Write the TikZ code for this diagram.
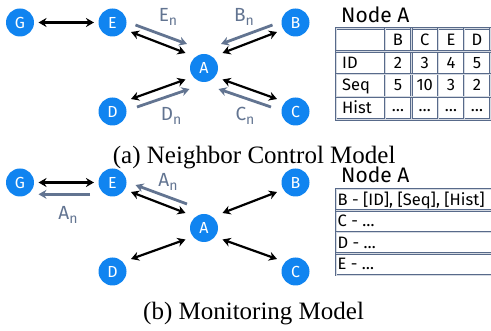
\documentclass[tikz,border=0pt]{standalone}
\usepackage{fontspec}
\setmainfont{Fira Sans}
\newfontfamily\capfont{Liberation Serif}
\usetikzlibrary{arrows.meta,calc}
\definecolor{nodeblue}{RGB}{16,132,240}
\definecolor{slate}{RGB}{98,116,145}
\definecolor{tbl}{RGB}{88,106,138}
\newcommand\nsub[2]{#1\raisebox{-4pt}{\fontsize{14}{14}\selectfont #2}}
\begin{document}
\begin{tikzpicture}[x=1pt,y=-1pt,
  peer/.style={circle,fill=nodeblue,text=white,minimum size=28pt,inner sep=0pt,font=\fontsize{16}{16}\selectfont},
  link/.style={line width=2.2pt,{Stealth[length=8pt,width=9pt]}-{Stealth[length=8pt,width=9pt]}},
  flow/.style={line width=2.8pt,slate,-{Stealth[length=8pt,width=9pt]}},
  flowlbl/.style={text=slate,font=\fontsize{19}{19}\selectfont,inner sep=0pt,anchor=base},
  grid/.style={draw=tbl,double=white!75!tbl,line width=0.85pt,double distance=0.8pt},
  cell/.style={font=\fontsize{16.5}{16.5}\selectfont,inner sep=0pt,anchor=base},
  lcell/.style={cell,anchor=base west},
  title/.style={font=\fontsize{21}{21}\selectfont,inner sep=0pt,anchor=base west},
  caption/.style={font=\capfont\fontsize{25}{25}\selectfont,inner sep=0pt,anchor=base west}]
\useasboundingbox (0,0) rectangle (491,331);

% ---------- (a) Neighbor Control Model ----------
\node[peer] (Ga) at (20,22.5) {G};
\node[peer] (Ea) at (112.5,22.5) {E};
\node[peer] (Ba) at (295.5,22.5) {B};
\node[peer] (Aa) at (204,68) {A};
\node[peer] (Da) at (112.5,111.5) {D};
\node[peer] (Ca) at (295.5,111.5) {C};

\draw[link] ($(Ga)+(18.5,0)$) -- ($(Ea)+(-18.5,0)$);
\draw[link] ($(Ea)+(18.5,9.5)$) -- ($(Aa)+(-18.5,-15)$);
\draw[link] ($(Ba)+(-18.5,9.5)$) -- ($(Aa)+(18.5,-15)$);
\draw[link] ($(Da)+(18.5,-12.5)$) -- ($(Aa)+(-18.5,11.5)$);
\draw[link] ($(Ca)+(-18.5,-12.5)$) -- ($(Aa)+(18.5,11.5)$);

\draw[flow] ($(Ea)+(23,2.5)$) -- ($(Aa)+(-17,-24)$);
\draw[flow] ($(Ba)+(-23,2.5)$) -- ($(Aa)+(17,-24)$);
\draw[flow] ($(Da)+(24.5,-4.5)$) -- ($(Aa)+(-14.5,21)$);
\draw[flow] ($(Ca)+(-24.5,-4.5)$) -- ($(Aa)+(14.5,21)$);

\node[flowlbl] (En) at (168,22) {\nsub{E}{n}};
\node[flowlbl] (Bn) at (244,22) {\nsub{B}{n}};
\node[flowlbl] (Dn) at (171,121) {\nsub{D}{n}};
\node[flowlbl] (Cn) at (245,121) {\nsub{C}{n}};

% table (a)
\node[title] (Ta) at (341,22.5) {Node A};
\draw[grid] (336,28.5) rectangle (494,119.5);
\foreach \x in {385,411.5,438,464,490} \draw[grid] (\x,28.5) -- (\x,119.5);
\foreach \y in {51.3,74,96.8} \draw[grid] (336,\y) -- (494,\y);
\node[lcell] (rID) at (342,68.1) {ID};
\node[lcell] (rSeq) at (342,90.9) {Seq};
\node[lcell] (rHist) at (342,113.6) {Hist};
\foreach \n/\x/\h/\i/\s in {B/398/B/2/5, C/424.75/C/3/10, E/451/E/4/3, D/477/D/5/2}{
  \node[cell] (h\n) at (\x,45.4) {\h};
  \node[cell] (i\n) at (\x,68.1) {\i};
  \node[cell] (s\n) at (\x,90.9) {\s};
  \node[cell] (t\n) at (\x,111.6) {…};
}

\node[caption] (capa) at (112.7,163.3) {(a) Neighbor Control Model};

% ---------- (b) Monitoring Model ----------
\node[peer] (Gb) at (20,182.5) {G};
\node[peer] (Eb) at (112.5,182.5) {E};
\node[peer] (Bb) at (295.5,182.5) {B};
\node[peer] (Ab) at (204,228) {A};
\node[peer] (Db) at (112.5,271.5) {D};
\node[peer] (Cb) at (295.5,271.5) {C};

\draw[link] ($(Gb)+(18.5,0)$) -- ($(Eb)+(-18.5,0)$);
\draw[link] ($(Eb)+(18.5,9.5)$) -- ($(Ab)+(-18.5,-15)$);
\draw[link] ($(Bb)+(-18.5,9.5)$) -- ($(Ab)+(18.5,-15)$);
\draw[link] ($(Db)+(18.5,-12.5)$) -- ($(Ab)+(-18.5,11.5)$);
\draw[link] ($(Cb)+(-18.5,-12.5)$) -- ($(Ab)+(18.5,11.5)$);

\draw[flow] ($(Ab)+(-17,-24)$) -- ($(Eb)+(23,2.5)$);
\draw[flow] ($(Eb)+(-22.5,11.8)$) -- ($(Gb)+(18.5,11.8)$);

\node[flowlbl] (An1) at (168,187) {\nsub{A}{n}};
\node[flowlbl] (An2) at (68,220) {\nsub{A}{n}};

% table (b)
\node[title] (Tb) at (341,182.5) {Node A};
\draw[grid] (336,189) rectangle (494,275);
\foreach \y in {210.5,232,253.5} \draw[grid] (336,\y) -- (494,\y);
\node[lcell] (mB) at (337.5,205.3) {B - [ID], [Seq], [Hist]};
\node[lcell] (mC) at (337.5,226.8) {C - …};
\node[lcell] (mD) at (337.5,248.3) {D - …};
\node[lcell] (mE) at (337.5,269.8) {E - …};

\node[caption] (capb) at (143,319.5) {(b) Monitoring Model};
\end{tikzpicture}
\end{document}
